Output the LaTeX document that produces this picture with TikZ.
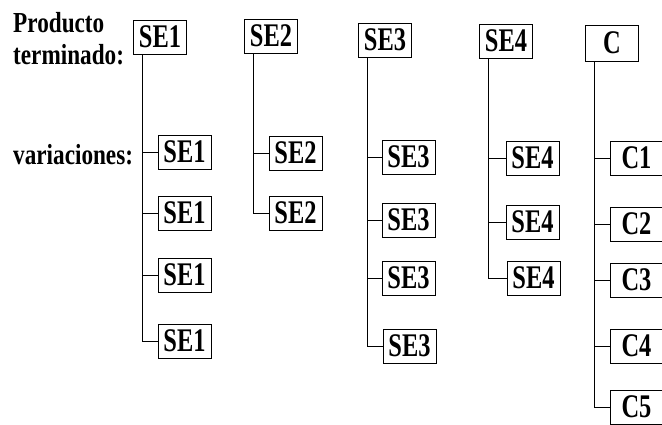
\documentclass[tikz,border=0pt]{standalone}
\usepackage{fontspec}
\setmainfont{Liberation Serif}
\usepackage{graphicx}
\newcommand{\narrow}[1]{\scalebox{0.8}[1]{#1}}
\newcommand{\cajatxt}[1]{\scalebox{0.74}[1]{#1}}
\tikzset{
    caja/.style={draw, line width=1pt, inner sep=0pt, minimum width=53pt, minimum height=34pt,
        font=\bfseries\fontsize{33}{33}\selectfont},
    etiqueta/.style={anchor=base west, inner sep=0pt, font=\bfseries\fontsize{29}{29}\selectfont},
    rama/.style={line width=0.9pt}
}
\begin{document}
\begin{tikzpicture}[x=1pt, y=-1pt]
    \useasboundingbox (0,0) rectangle (662,424);
    % Below nodes are the labels.
        \node[etiqueta] (prod) at (13,32) {\narrow{Producto}};
        \node[etiqueta] (term) at (13,64) {\narrow{terminado:}};
        \node[etiqueta] (vari) at (13,164) {\narrow{variaciones:}};
    % Finished products on top.
        \node[caja] (p1) at (160,37) {\cajatxt{SE1}};
        \node[caja] (p2) at (271,36) {\cajatxt{SE2}};
        \node[caja] (p3) at (385,40) {\cajatxt{SE3}};
        \node[caja] (p4) at (506,41) {\cajatxt{SE4}};
        \node[caja, minimum height=36pt] (p5) at (612,43) {\cajatxt{C}};
    % Variations.
        \node[caja] (c11) at (184.5,152) {\cajatxt{SE1}};
        \node[caja] (c12) at (184.5,213) {\cajatxt{SE1}};
        \node[caja] (c13) at (184.5,275) {\cajatxt{SE1}};
        \node[caja] (c14) at (184.5,341) {\cajatxt{SE1}};
        \node[caja] (c21) at (295.5,153) {\cajatxt{SE2}};
        \node[caja] (c22) at (295.5,213) {\cajatxt{SE2}};
        \node[caja] (c31) at (408.5,157) {\cajatxt{SE3}};
        \node[caja] (c32) at (408.5,220) {\cajatxt{SE3}};
        \node[caja] (c33) at (408.5,278) {\cajatxt{SE3}};
        \node[caja] (c34) at (409.5,346) {\cajatxt{SE3}};
        \node[caja] (c41) at (532.5,158) {\cajatxt{SE4}};
        \node[caja] (c42) at (532.5,222) {\cajatxt{SE4}};
        \node[caja] (c43) at (533.5,278) {\cajatxt{SE4}};
        \node[caja] (c51) at (636.5,158) {\cajatxt{C1}};
        \node[caja] (c52) at (636.5,224) {\cajatxt{C2}};
        \node[caja] (c53) at (636.5,280) {\cajatxt{C3}};
        \node[caja] (c54) at (636.5,346) {\cajatxt{C4}};
        \node[caja] (c55) at (636.5,407) {\cajatxt{C5}};
    % This draws the trunks and the branches.
        \foreach \p/\n in {1/4, 2/2, 3/4, 4/3, 5/5} {
            \coordinate (t\p) at ([xshift=9pt]p\p.south west);
            \draw[rama] (t\p) |- (c\p\n.west);
            \foreach \i in {1,...,\n} {
                \draw[rama] (c\p\i.west) -- (c\p\i.west -| t\p);
            }
        }
\end{tikzpicture}
\end{document}
